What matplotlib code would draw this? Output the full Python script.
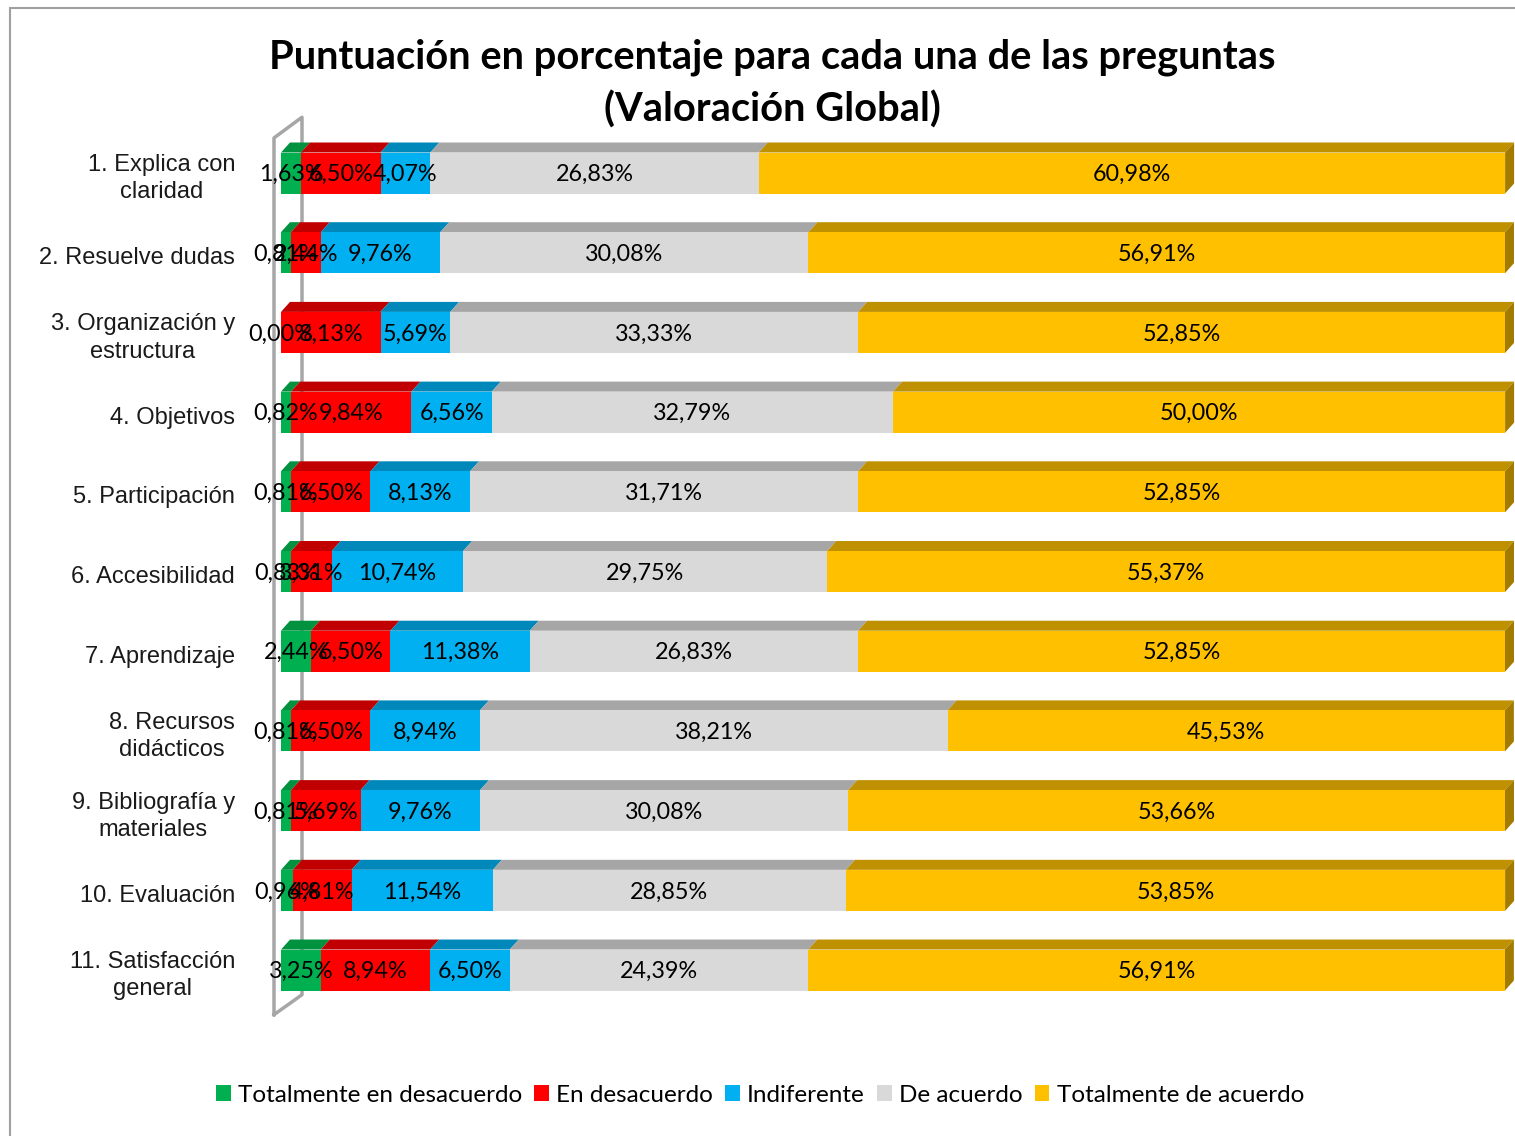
import numpy as np
import matplotlib
matplotlib.use('Agg')
import matplotlib.pyplot as plt
from matplotlib.patches import Polygon, Patch, Rectangle
from matplotlib.lines import Line2D

# Data
preguntas = ['1. Explica con\nclaridad', '2. Resuelve dudas', '3. Organización y\nestructura',
             '4. Objetivos', '5. Participación', '6. Accesibilidad', '7. Aprendizaje',
             '8. Recursos\ndidácticos', '9. Bibliografía y\nmateriales', '10. Evaluación',
             '11. Satisfacción\ngeneral']
series = ['Totalmente en desacuerdo', 'En desacuerdo', 'Indiferente', 'De acuerdo',
          'Totalmente de acuerdo']
tot_desacuerdo = [1.63, 0.81, 0.00, 0.82, 0.81, 0.83, 2.44, 0.81, 0.81, 0.96, 3.25]
en_desacuerdo = [6.50, 2.44, 8.13, 9.84, 6.50, 3.31, 6.50, 6.50, 5.69, 4.81, 8.94]
indiferente = [4.07, 9.76, 5.69, 6.56, 8.13, 10.74, 11.38, 8.94, 9.76, 11.54, 6.50]
de_acuerdo = [26.83, 30.08, 33.33, 32.79, 31.71, 29.75, 26.83, 38.21, 30.08, 28.85, 24.39]
tot_acuerdo = [60.98, 56.91, 52.85, 50.00, 52.85, 55.37, 52.85, 45.53, 53.66, 53.85, 56.91]

valores = [tot_desacuerdo, en_desacuerdo, indiferente, de_acuerdo, tot_acuerdo]
colores = ['#00B050', '#FF0000', '#00B0F0', '#D9D9D9', '#FFC000']
colores_top = ['#00923F', '#C00000', '#0088BA', '#A6A6A6', '#BF9000']
color_lado = '#A37B00'

W, H = 1515, 1136
fig = plt.figure(figsize=(W / 100, H / 100), dpi=100)
ax = fig.add_axes([281 / W, 1 - 1020 / H, 1224 / W, 900 / H])
ax.set_xlim(0, 100)
ax.set_ylim(10.627, -0.665)
ax.axis('off')

# 3D depth of the bars (in data units)
px_x = 100 / 1224
px_y = 1 / 79.7
dx = 9 * px_x
dy = 10 * px_y
h = 41 * px_y

# back wall
ax.add_line(Line2D([-7 * px_x, -7 * px_x, 21 * px_x, 21 * px_x, -7 * px_x],
                   [10.56, -0.44, -0.70, 10.31, 10.56],
                   color='#A6A6A6', lw=2.5, clip_on=False, zorder=1))

y = np.arange(len(preguntas))
left = np.zeros(len(preguntas))
for vals, c, ct in zip(valores, colores, colores_top):
    vals = np.array(vals)
    ax.barh(y, vals, left=left, height=h, color=c, edgecolor='none', zorder=3)
    for i in range(len(y)):
        top = y[i] - h / 2
        l, r = left[i], left[i] + vals[i]
        if vals[i] > 0:
            ax.add_patch(Polygon([[l, top], [r, top], [r + dx, top - dy], [l + dx, top - dy]],
                                 closed=True, facecolor=ct, edgecolor='none', zorder=2.5,
                                 clip_on=False))
        txt = f'{vals[i]:.2f}'.replace('.', ',') + '%'
        ax.text(l + vals[i] / 2, y[i] + 0.02, txt, ha='center', va='center',
                fontsize=16.8, family='Lato', color='black', zorder=5, clip_on=False)
    left = left + vals

# right side face of the last segment
for i in range(len(y)):
    top = y[i] - h / 2
    bot = y[i] + h / 2
    ax.add_patch(Polygon([[left[i], top], [left[i] + dx, top - dy], [left[i] + dx, bot - dy],
                          [left[i], bot]], closed=True, facecolor=color_lado,
                         edgecolor='none', zorder=2.5, clip_on=False))

# category labels
for i, lab in enumerate(preguntas):
    ax.text(-46 * px_x, y[i] + 0.07, lab, ha='right', va='center', multialignment='center',
            fontsize=17, family='Liberation Sans', color='#1a1a1a', linespacing=1.3)

fig.text(772 / W, 1 - 84 / H, 'Puntuación en porcentaje para cada una de las preguntas\n(Valoración Global)',
         ha='center', va='center', fontsize=28.7, fontweight='bold', family='Lato',
         linespacing=1.47)

handles = [Patch(facecolor=c, edgecolor='none') for c in colores]
fig.legend(handles, series, loc='center', bbox_to_anchor=(760 / W, 1 - 1095 / H), ncol=5,
           frameon=False, handlelength=0.6, handleheight=0.6, handletextpad=0.3,
           columnspacing=0.5, prop={'family': 'Lato', 'size': 17.5})

fig.add_artist(Rectangle((10 / W, -0.1), 1.2, 1.1 - 8 / H, transform=fig.transFigure,
                         fill=False, edgecolor='#A0A0A0', lw=1.5))

fig.savefig('out.png', dpi=100)
